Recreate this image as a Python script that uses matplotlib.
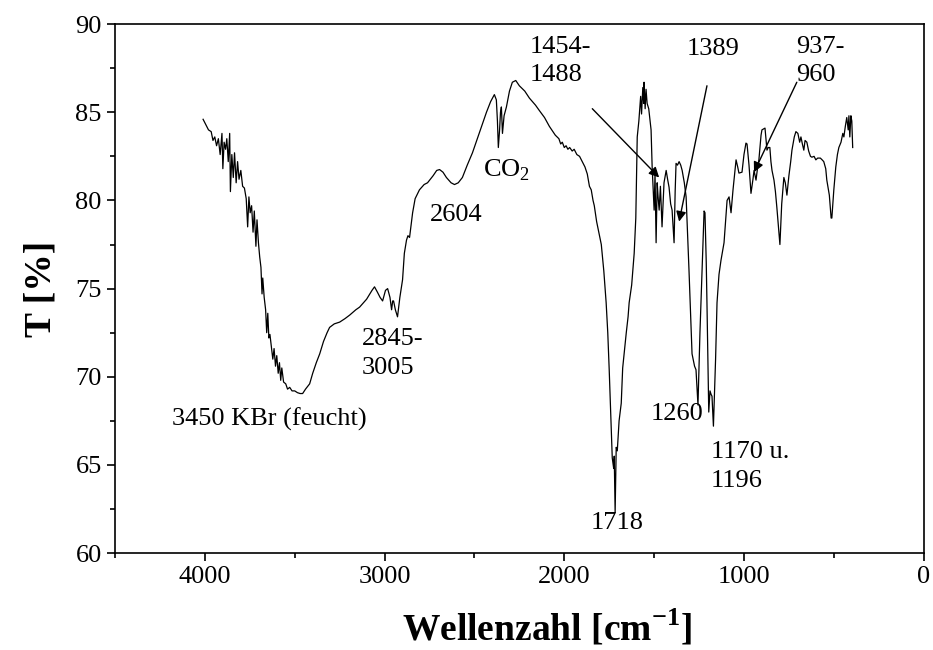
import numpy as np
import matplotlib
matplotlib.use("Agg")
import matplotlib.pyplot as plt
from matplotlib.ticker import MultipleLocator

plt.rcParams['font.family'] = ['Liberation Serif', 'DejaVu Serif']
plt.rcParams['mathtext.fontset'] = 'custom'
plt.rcParams['mathtext.rm'] = 'Liberation Serif'
plt.rcParams['mathtext.bf'] = 'Liberation Serif:bold'

# IR-Spektrum (Wellenzahl in cm-1, Transmission in %)
wellenzahl = [
    4010, 3995, 3980, 3965, 3955, 3945, 3935, 3925, 3915, 3905, 3900, 3893, 3885, 3878,
    3870, 3862, 3858, 3850, 3842, 3835, 3826, 3818, 3810, 3800, 3790, 3780, 3770, 3762,
    3755, 3748, 3740, 3732, 3725, 3716, 3710, 3702, 3695, 3688, 3682, 3678, 3670, 3662,
    3656, 3650, 3644, 3638, 3630, 3622, 3615, 3607, 3600, 3592, 3585, 3578, 3572, 3562,
    3550, 3540, 3528, 3515, 3500, 3485, 3470, 3456, 3440, 3417, 3400, 3380, 3361, 3340,
    3320, 3306, 3280, 3250, 3220, 3194, 3160, 3139, 3100, 3070, 3056, 3040, 3025, 3011,
    2995, 2983, 2970, 2961, 2955, 2950, 2940, 2928, 2915, 2900, 2890, 2878, 2870, 2861,
    2850, 2844, 2830, 2806, 2780, 2761, 2730, 2710, 2694, 2675, 2656, 2630, 2611, 2590,
    2567, 2540, 2511, 2470, 2433, 2410, 2389, 2378, 2372, 2367, 2360, 2355, 2350, 2344,
    2335, 2322, 2305, 2289, 2270, 2250, 2220, 2194, 2160, 2139, 2110, 2083, 2050, 2030,
    2020, 2011, 2000, 1990, 1980, 1970, 1956, 1945, 1930, 1915, 1900, 1885, 1872, 1860,
    1850, 1840, 1833, 1820, 1810, 1794, 1780, 1767, 1758, 1750, 1740, 1733, 1725, 1722,
    1717, 1711, 1705, 1695, 1683, 1675, 1667, 1655, 1645, 1639, 1625, 1611, 1602, 1594,
    1585, 1575, 1570, 1563, 1558, 1556, 1550, 1545, 1539, 1530, 1517, 1511, 1505, 1500,
    1495, 1489, 1483, 1478, 1472, 1465, 1456, 1445, 1433, 1425, 1417, 1408, 1400, 1389,
    1383, 1378, 1370, 1361, 1352, 1344, 1332, 1322, 1306, 1289, 1275, 1267, 1256, 1245,
    1233, 1222, 1217, 1210, 1206, 1196, 1189, 1183, 1178, 1170, 1158, 1150, 1139, 1128,
    1111, 1094, 1083, 1072, 1061, 1044, 1035, 1028, 1011, 1000, 989, 983, 972, 961,
    950, 944, 933, 925, 917, 905, 900, 883, 872, 865, 856, 850, 844, 833,
    825, 817, 808, 800, 790, 778, 770, 761, 750, 740, 733, 720, 711, 700,
    690, 683, 675, 667, 660, 650, 640, 630, 622, 610, 600, 590, 575, 565,
    556, 545, 539, 525, 515, 511, 500, 489, 480, 472, 460, 450, 444, 436,
    428, 420, 416, 411, 405, 400, 395,
]
transmission = [
    84.6, 84.3, 84.0, 83.9, 83.4, 83.6, 83.1, 83.5, 82.6, 83.8, 81.8, 83.3, 82.9, 83.5,
    82.2, 83.8, 80.5, 82.6, 81.3, 82.7, 81.0, 82.2, 81.2, 81.7, 80.8, 80.7, 80.1, 78.5,
    80.2, 79.3, 79.7, 78.2, 79.4, 77.4, 78.9, 77.6, 76.8, 76.2, 74.7, 75.6, 74.5, 73.8,
    72.5, 73.6, 72.2, 72.4, 71.7, 71.0, 71.6, 70.6, 71.2, 70.2, 70.8, 69.8, 70.5, 69.7,
    69.6, 69.3, 69.4, 69.2, 69.2, 69.1, 69.05, 69.05, 69.3, 69.6, 70.2, 70.8, 71.3, 72.0,
    72.5, 72.8, 73.0, 73.1, 73.3, 73.5, 73.8, 73.95, 74.4, 74.9, 75.1, 74.8, 74.5, 74.3,
    74.9, 75.0, 74.5, 73.8, 74.3, 74.3, 73.8, 73.4, 74.5, 75.5, 77.0, 77.75, 78.0, 77.9,
    78.8, 79.3, 80.1, 80.6, 80.9, 81.0, 81.4, 81.7, 81.75, 81.6, 81.3, 81.0, 80.9, 81.0,
    81.3, 82.0, 82.7, 83.9, 85.0, 85.6, 86.0, 85.7, 84.5, 83.0, 84.0, 85.0, 85.3, 83.8,
    84.8, 85.3, 86.2, 86.7, 86.8, 86.5, 86.2, 85.8, 85.4, 85.1, 84.7, 84.2, 83.7, 83.5,
    83.2, 83.3, 83.0, 83.1, 82.9, 83.0, 82.8, 82.9, 82.6, 82.5, 82.2, 81.9, 81.5, 80.8,
    80.6, 80.0, 79.7, 78.8, 78.3, 77.5, 76.0, 74.2, 72.5, 70.4, 67.5, 65.4, 64.8, 65.5,
    62.3, 66.0, 65.8, 67.5, 68.5, 70.5, 71.3, 72.5, 73.4, 74.2, 75.2, 77.0, 79.0, 83.6,
    84.5, 85.9, 84.9, 86.4, 85.5, 86.7, 85.2, 86.3, 85.5, 85.2, 84.0, 81.9, 80.5, 79.45,
    81.5, 77.6, 81.0, 80.2, 79.45, 80.8, 78.5, 81.0, 81.7, 81.2, 80.75, 79.8, 79.45, 77.6,
    80.5, 82.1, 82.0, 82.2, 82.0, 81.7, 81.0, 80.2, 76.05, 71.3, 70.6, 70.4, 68.4, 72.5,
    76.05, 79.4, 79.3, 76.5, 74.2, 68.0, 69.2, 69.0, 68.9, 67.2, 71.0, 74.2, 75.8, 76.6,
    77.6, 80.0, 80.2, 79.3, 80.6, 82.3, 81.9, 81.55, 81.6, 82.6, 83.25, 83.2, 82.0, 80.4,
    81.2, 81.7, 81.15, 81.8, 82.3, 83.7, 84.0, 84.1, 82.85, 83.0, 83.0, 82.2, 81.7, 81.15,
    80.5, 79.6, 78.5, 77.5, 79.8, 81.3, 81.0, 80.3, 81.4, 82.2, 82.85, 83.6, 83.9, 83.8,
    83.3, 83.6, 83.2, 82.85, 83.4, 83.3, 82.8, 82.5, 82.45, 82.5, 82.3, 82.4, 82.4, 82.3,
    82.2, 81.8, 81.15, 80.3, 79.0, 79.0, 80.6, 81.9, 82.6, 83.0, 83.3, 83.8, 83.6, 84.2,
    84.7, 84.0, 84.8, 83.6, 84.8, 84.5, 83.0,
]

# Beschriftungen der Banden
beschriftungen = ["3450 KBr (feucht)", "2845-\n3005", "2604", "CO$_\\mathrm{2}$",
                  "1454-\n1488", "1389", "937-\n960", "1718", "1260", "1170 u.\n1196"]
text_x = [3640, 3128, 2600, 2322, 2194, 1172, 712, 1706, 1375, 1185]
text_y = [67.6, 71.3, 79.2, 81.7, 87.9, 88.6, 87.9, 61.7, 67.9, 64.9]
text_ha = ["center", "left", "center", "center", "left", "center", "left", "center", "center", "left"]

# Pfeile (Start -> Spitze)
pfeil_start_x = [1844, 1206, 706]
pfeil_start_y = [85.2, 86.5, 86.7]
pfeil_ziel_x = [1472, 1361, 944]
pfeil_ziel_y = [81.3, 78.8, 81.6]

fig = plt.figure(figsize=(9.33, 6.5), dpi=100)
ax = fig.add_axes([0.1233, 0.149, 0.8667, 0.814])

ax.plot(wellenzahl, transmission, color="black", linewidth=0.9)

for t, x, y, ha in zip(beschriftungen, text_x, text_y, text_ha):
    ax.text(x, y, t, ha=ha, va="center", fontsize=19, linespacing=1.4)

for sx, sy, zx, zy in zip(pfeil_start_x, pfeil_start_y, pfeil_ziel_x, pfeil_ziel_y):
    ax.annotate("", xy=(zx, zy), xytext=(sx, sy),
                arrowprops=dict(arrowstyle="-|>", color="black", lw=1.0,
                                mutation_scale=15, shrinkA=0, shrinkB=0))

ax.set_xlim(4500, 0)
ax.set_ylim(60, 90)
ax.xaxis.set_major_locator(MultipleLocator(1000))
ax.xaxis.set_minor_locator(MultipleLocator(500))
ax.yaxis.set_major_locator(MultipleLocator(5))
ax.yaxis.set_minor_locator(MultipleLocator(2.5))
ax.tick_params(which="major", direction="out", length=6, width=1.2, labelsize=19)
ax.tick_params(which="minor", direction="out", length=3.5, width=1.2)
for s in ax.spines.values():
    s.set_linewidth(1.2)

ax.set_xlabel("Wellenzahl [cm$^{\\mathbf{-1}}$]", fontsize=27, fontweight="bold")
ax.xaxis.set_label_coords(0.534, -0.105)
ax.set_ylabel("T [%]", fontsize=27, fontweight="bold", labelpad=12)

fig.savefig("out.png", dpi=100)
